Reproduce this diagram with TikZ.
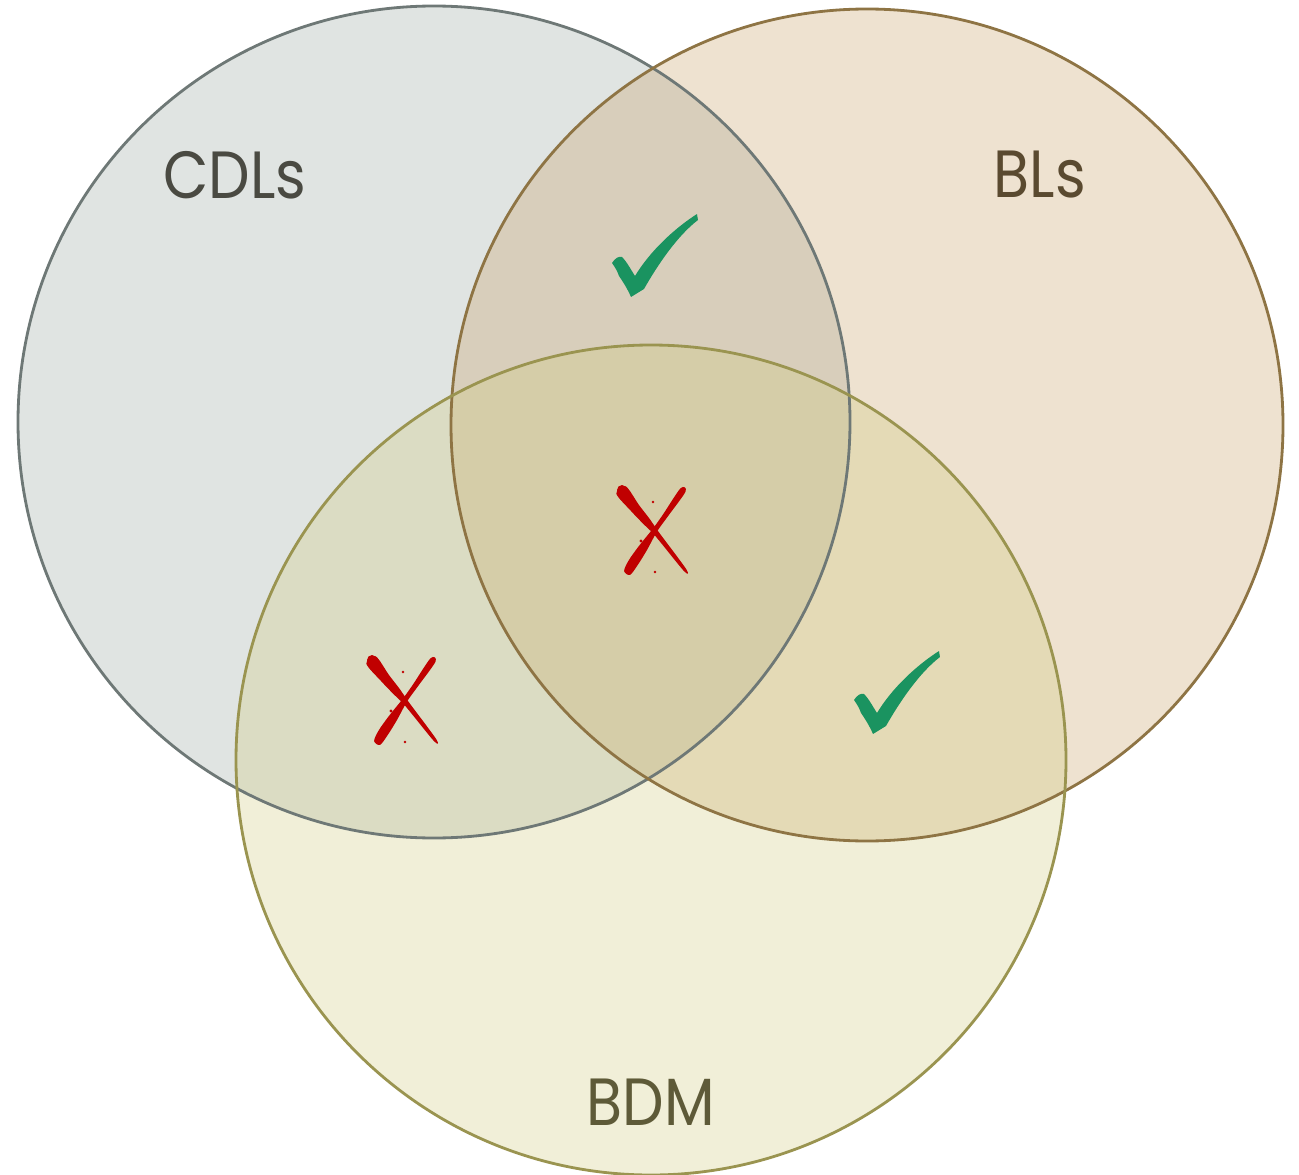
\documentclass[tikz,border=0pt]{standalone}
\usepackage{fontspec}
\setmainfont{Poppins}[FakeStretch=0.88]
\usetikzlibrary{calc}
\definecolor{cdlfill}{HTML}{98A59E}
\definecolor{cdlline}{HTML}{6E7876}
\definecolor{cdltext}{HTML}{4A4A42}
\definecolor{blfill}{HTML}{C69E62}
\definecolor{blline}{HTML}{8E7444}
\definecolor{bltext}{HTML}{5A4A30}
\definecolor{bdmfill}{HTML}{D0CA7D}
\definecolor{bdmline}{HTML}{9A9450}
\definecolor{bdmtext}{HTML}{5E5A38}
\definecolor{okgreen}{HTML}{1A9360}
\definecolor{nored}{HTML}{C00000}
\tikzset{
	set/.style={fill opacity=0.3},
	rim/.style={line width=0.8pt},
	lbl/.style={font=\fontsize{19}{22}\selectfont},
	tickmark/.pic={
		\fill[okgreen, x=0.01cm, y=0.01cm]
		(-43,-7) .. controls (-40,-2) and (-36,0) .. (-33,-1)
		.. controls (-28,-6) and (-24,-14) .. (-20,-20)
		.. controls (-5,5) and (20,28) .. (42,42)
		-- (43,36) .. controls (22,20) and (2,-10) .. (-11,-33)
		-- (-24,-41) .. controls (-28,-32) and (-32,-26) .. (-36,-20)
		.. controls (-38,-14) and (-41,-10) .. (-43,-7) -- cycle;
	},
	crossmark/.pic={
		\begin{scope}[x=0.01cm, y=0.01cm, nored]
			\fill plot[smooth cycle, tension=0.5] coordinates
			{(-29.3,43.7) (-16.1,25.1) (-4.9,10.5) (4,-2.4) (31.2,-39.1)
			 (28.8,-40.9) (0,-5.6) (-11.1,5.5) (-23.9,18.9) (-38.7,36.3)};
			\fill plot[smooth cycle, tension=0.5] coordinates
			{(30.5,38.3) (12.1,12.6) (2.1,-1.4) (-8.3,-20.5) (-17.8,-35.8) (-25.1,-45)
			 (-30.9,-41) (-26.2,-30.2) (-15.7,-15.5) (-2.1,1.4) (7.9,15.4) (25.5,41.7)};
			\fill (-33,40) circle (5);
			\fill (-2,28) circle (1.3) (-14,-11) circle (1.6) (0,-42) circle (1.3);
		\end{scope}
	}
}

\begin{document}
\begin{tikzpicture}
	\useasboundingbox (0,0) rectangle (12.99,-11.75);
	\coordinate (cdl) at (4.34,-4.22);
	\coordinate (bl) at (8.67,-4.25);
	\coordinate (bdm) at (6.51,-7.60);

	% the three sets, fills first, rims on top
	\foreach \c/\r/\f in {cdl/4.16/cdlfill, bl/4.16/blfill, bdm/4.15/bdmfill}{
		\fill[set, fill=\f] (\c) circle (\r);}
	\foreach \c/\r/\l in {cdl/4.16/cdlline, bl/4.16/blline, bdm/4.15/bdmline}{
		\draw[rim, draw=\l] (\c) circle (\r);}

	\node[lbl, text=cdltext] (cdllabel) at (2.35,-1.75) {CDLs};
	\node[lbl, text=bltext] (bllabel) at (10.40,-1.75) {BLs};
	\node[lbl, text=bdmtext] (bdmlabel) at (6.51,-11.02) {BDM};

	% marks in the overlaps
	\foreach \p/\q in {ok1/{(6.55,-2.56)}, ok2/{(8.97,-6.93)}}{
		\pic (\p) at \q {tickmark};}
	\foreach \p/\q in {no1/{(6.55,-5.30)}, no2/{(4.05,-7.00)}}{
		\pic (\p) at \q {crossmark};}
\end{tikzpicture}
\end{document}
